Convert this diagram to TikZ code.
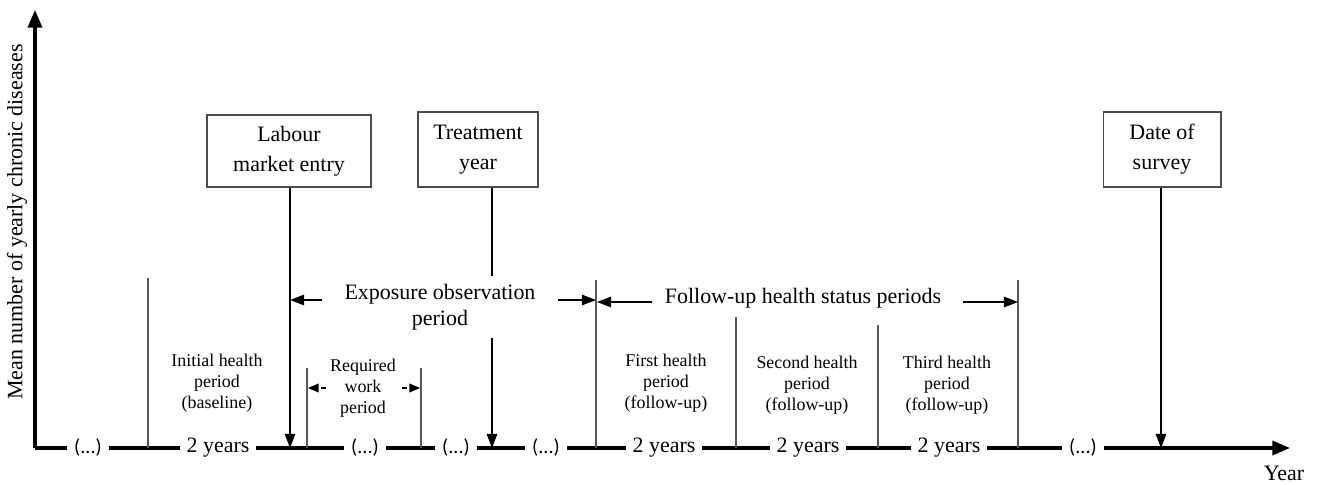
\documentclass[tikz,border=0pt]{standalone}
\usepackage{fontspec}
\setmainfont{Liberation Serif}
\newfontfamily\serifface{Liberation Serif}
\newfontfamily\dotsface{Carlito}
\usetikzlibrary{arrows.meta}
\tikzset{
  axisline/.style={line width=1.8pt},
  thinline/.style={line width=0.6pt, draw=black!65},
  pointer/.style={line width=0.6pt, -{Triangle[length=8pt,width=6pt]}},
  event/.style={draw=black!70, line width=0.6pt, align=center, inner sep=0pt,
    font=\serifface\fontsize{12.5}{17}\selectfont},
  bigtext/.style={align=center, font=\serifface\fontsize{12.5}{14.5}\selectfont},
  smalltext/.style={align=center, font=\serifface\fontsize{10.2}{12}\selectfont},
  ticklabel/.style={fill=white, inner xsep=4pt, inner ysep=2pt, font=\serifface\fontsize{12.5}{14}\selectfont},
  dotslabel/.style={fill=white, inner xsep=4pt, inner ysep=2pt, font=\dotsface\fontsize{11.5}{14}\selectfont},
}
\begin{document}
\begin{tikzpicture}[x=0.02cm,y=-0.02cm]
\useasboundingbox (0,0) rectangle (1317,484);

% axes
\coordinate (origin) at (35,448);
\coordinate (ytip) at (35,10);
\coordinate (xtip) at (1290,448);
\draw[axisline,-{Triangle[length=10pt,width=8pt]}] (origin) -- (ytip);
\draw[axisline,-{Triangle[length=10pt,width=8pt]}] (origin) -- (xtip);
\node[rotate=90, font=\serifface\fontsize{12.5}{14}\selectfont] (ylab) at (17,222) {Mean number of yearly chronic diseases};
\node[font=\serifface\fontsize{12.5}{14}\selectfont, anchor=base, inner sep=0pt] (xlab) at (1284,480) {Year};

% thin vertical lines
\coordinate (v1t) at (148,278); \coordinate (v1b) at (148,448);
\coordinate (w1t) at (307,368); \coordinate (w1b) at (307,448);
\coordinate (w2t) at (421,368); \coordinate (w2b) at (421,448);
\coordinate (v2t) at (596,280); \coordinate (v2b) at (596,448);
\coordinate (v3t) at (736,317); \coordinate (v3b) at (736,448);
\coordinate (v4t) at (878,325); \coordinate (v4b) at (878,448);
\coordinate (v5t) at (1018,280); \coordinate (v5b) at (1018,448);
\foreach \a in {v1,w1,w2,v2,v3,v4,v5} \draw[thinline] (\a t) -- (\a b);

% event boxes
\node[event, minimum width=3.28cm, minimum height=1.44cm] (labour) at (289,151) {Labour\\market entry};
\node[event, minimum width=2.4cm, minimum height=1.5cm] (treat) at (478,149.5) {Treatment\\year};
\node[event, minimum width=2.36cm, minimum height=1.5cm] (survey) at (1162,149.5) {Date of\\survey};

\coordinate (labourhit) at (290,448);
\coordinate (treathit) at (492,448);
\coordinate (surveyhit) at (1161,448);
\draw[pointer] (labour.south -| labourhit) -- (labourhit);
\draw[pointer] (treat.south -| treathit) -- (treathit);
\draw[pointer] (survey.south -| surveyhit) -- (surveyhit);

% exposure observation period
\node[bigtext, fill=white, inner xsep=6pt, inner ysep=5pt] (expo) at (440,307) {Exposure observation\\period};
\coordinate (e1s) at (322,300); \coordinate (e1e) at (290,300);
\coordinate (e2s) at (558,300); \coordinate (e2e) at (596,300);
\draw[pointer] (e1s) -- (e1e);
\draw[pointer] (e2s) -- (e2e);

% follow-up
\node[bigtext] (follow) at (803,298) {Follow-up health status periods};
\coordinate (f1s) at (652,302); \coordinate (f1e) at (597,302);
\coordinate (f2s) at (963,302); \coordinate (f2e) at (1018,302);
\draw[pointer] (f1s) -- (f1e);
\draw[pointer] (f2s) -- (f2e);

% required work
\node[smalltext] (work) at (363,388) {Required\\work\\period};
\coordinate (r1s) at (326,388); \coordinate (r1e) at (308,388);
\coordinate (r2s) at (402,388); \coordinate (r2e) at (420,388);
\draw[line width=0.6pt, dashed, dash pattern=on 3pt off 2pt, -{Triangle[length=6pt,width=5pt]}] (r1s) -- (r1e);
\draw[line width=0.6pt, dashed, dash pattern=on 3pt off 2pt, -{Triangle[length=6pt,width=5pt]}] (r2s) -- (r2e);

% health periods
\node[smalltext] (init) at (217,383) {Initial health\\period\\(baseline)};
\node[smalltext] (first) at (666,383) {First health\\period\\(follow-up)};
\node[smalltext] (second) at (807,385) {Second health\\period\\(follow-up)};
\node[smalltext] (third) at (947,385) {Third health\\period\\(follow-up)};

% axis labels
\node[dotslabel] (d1) at (88,447) {(...)};
\node[ticklabel] (y1) at (218,448) {2 years};
\node[dotslabel] (d2) at (365,447) {(...)};
\node[dotslabel] (d3) at (456,447) {(...)};
\node[dotslabel] (d4) at (546,447) {(...)};
\node[ticklabel] (y2) at (664,448) {2 years};
\node[ticklabel] (y3) at (808,448) {2 years};
\node[ticklabel] (y4) at (949,448) {2 years};
\node[dotslabel] (d5) at (1083,447) {(...)};
\end{tikzpicture}
\end{document}
